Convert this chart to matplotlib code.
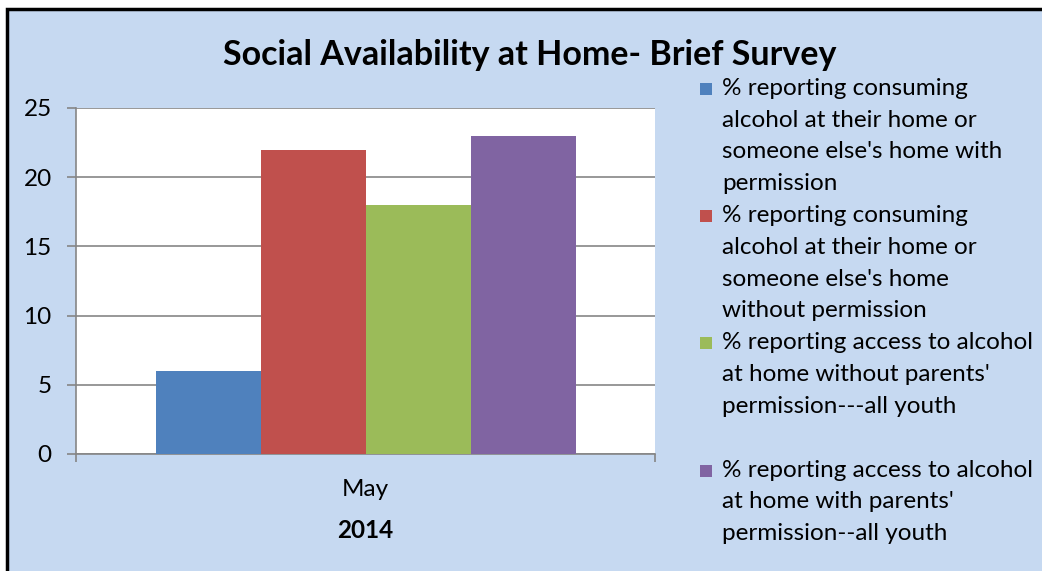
import matplotlib
matplotlib.use('Agg')
import matplotlib.pyplot as plt
from matplotlib.patches import Rectangle

plt.rcParams['font.family'] = ['Lato', 'DejaVu Sans']

# data
category = 'May'
year_label = '2014'
series_labels = [
    "% reporting consuming\nalcohol at their home or\nsomeone else's home with\npermission",
    "% reporting consuming\nalcohol at their home or\nsomeone else's home\nwithout permission",
    "% reporting access to alcohol\nat home without parents'\npermission---all youth",
    "% reporting access to alcohol\nat home with parents'\npermission--all youth",
]
values = [6, 22, 18, 23]
colors = ['#4F81BD', '#C0504D', '#9BBB59', '#8064A2']
y_ticks = [0, 5, 10, 15, 20, 25]
title = 'Social Availability at Home- Brief Survey'

W, H = 1042, 571
fig = plt.figure(figsize=(W / 100, H / 100), dpi=100)
fig.patch.set_facecolor('white')

# chart area background with black frame (cut off at right/bottom)
fig.patches.append(Rectangle((7 / W, -0.05), 1.1, 1 - 9 / H + 0.05,
                             transform=fig.transFigure, facecolor='#C6D9F1',
                             edgecolor='black', linewidth=2.5, zorder=0))

ax = fig.add_axes([76 / W, 1 - 454 / H, (655 - 76) / W, (454 - 108) / H])
ax.set_zorder(2)
ax.set_facecolor('white')

bw = 105 / 579
n = len(values)
for i, (v, c) in enumerate(zip(values, colors)):
    x = (i - (n - 1) / 2) * bw
    ax.bar(x, v, width=bw, color=c, zorder=3)

ax.set_xlim(-0.5, 0.5)
ax.set_ylim(0, 25)
ax.set_yticks(y_ticks)
ax.yaxis.grid(True, color='#868686', linewidth=1.2, zorder=1)
ax.tick_params(axis='y', length=6.5, width=1.2, color='#868686', pad=11,
               labelsize=17.5)
ax.set_xticks([-0.5, 0.5])
ax.set_xticklabels(['', ''])
ax.tick_params(axis='x', length=6, width=1.2, color='#868686')
for s in ['top', 'right']:
    ax.spines[s].set_visible(False)
for s in ['left', 'bottom']:
    ax.spines[s].set_color('#868686')
    ax.spines[s].set_linewidth(1.2)

fig.text(365 / W, 1 - 490 / H, category, ha='center', va='center', fontsize=17.5)
fig.text(365 / W, 1 - 530 / H, year_label, ha='center', va='center',
         fontsize=17.5, fontweight='bold')
fig.text(530 / W, 1 - 55 / H, title, ha='center', va='center',
         fontsize=24.5, fontweight='bold')

# legend drawn by hand: each entry takes four line slots
line_h = 31.8
top = 89
for i, (lab, c) in enumerate(zip(series_labels, colors)):
    y0 = top + i * 4 * line_h
    fig.patches.append(Rectangle((700 / W, 1 - (y0 + 6) / H), 12 / W, 12 / H,
                                 transform=fig.transFigure, facecolor=c,
                                 edgecolor='none'))
    fig.text(722 / W, 1 - (y0 - 11) / H, lab, ha='left', va='top',
             fontsize=17.5, linespacing=1.63)

fig.savefig('out.png', dpi=100)
